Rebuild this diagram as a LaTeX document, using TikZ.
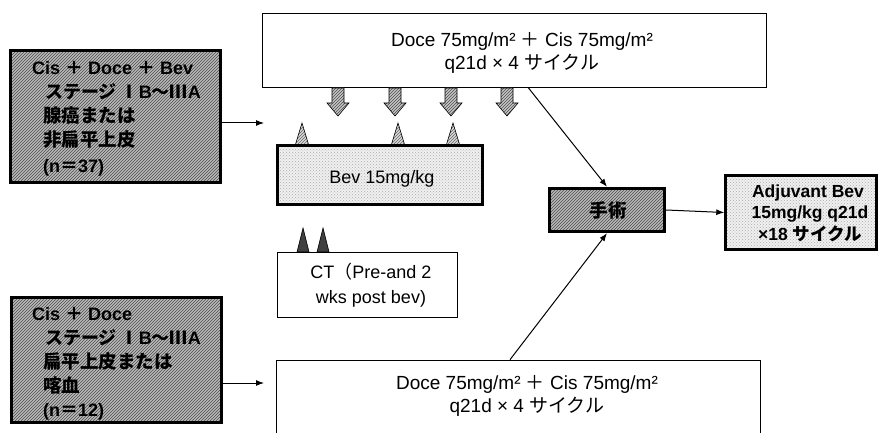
\documentclass[tikz,border=0pt]{standalone}
\usepackage{fontspec}
\setmainfont{Liberation Sans}
\newfontfamily\jp{Noto Sans CJK JP}
\newcommand\jtxt[1]{{\jp #1}}
\usetikzlibrary{arrows.meta,patterns}
\begin{document}
\begin{tikzpicture}[x=1pt,y=-1pt,
  darkbox/.style={draw=black,line width=3.4pt,preaction={fill=gray!55},pattern=north east lines,pattern color=black!70,inner sep=0},
  lightbox/.style={draw=black,line width=2.4pt,preaction={fill=gray!12},pattern=crosshatch dots,pattern color=gray!65,inner sep=0},
  plainbox/.style={draw=black,line width=0.7pt,fill=white,inner sep=0},
  arr/.style={-{Latex[length=8pt,width=6pt]},line width=1pt},
  lbl/.style={font=\bfseries\fontsize{18}{20}\selectfont,anchor=base west,inner sep=0},
  jlbl/.style={font=\bfseries\fontsize{18.5}{20}\selectfont,anchor=base west,inner sep=0},
  txt/.style={font=\fontsize{19}{22}\selectfont,anchor=base,inner sep=0},
  btxt/.style={font=\bfseries\fontsize{17.5}{20}\selectfont,anchor=base,inner sep=0},
  blockarr/.style={draw=black,line width=0.6pt,preaction={fill=gray!45},pattern=north east lines,pattern color=black!70},
  spike/.style={draw=black,line width=0.6pt,preaction={fill=gray!30},pattern=north east lines,pattern color=black!60},
  dspike/.style={draw=black,line width=0.6pt,fill=black!75}
]
\useasboundingbox (0,0) rectangle (881,433);
\clip (0,0) rectangle (881,433);

% left boxes
\node[darkbox,minimum width=210,minimum height=132] (A) at (115.5,116.5) {};
\node[lbl] (a1) at (32,75) {Cis \jtxt{＋} Doce \jtxt{＋} Bev};
\node[lbl] (a2) at (45,99) {\jtxt{ステージ Ⅰ}B\jtxt{～Ⅲ}A};
\node[jlbl] (a3) at (43,123) {\jtxt{腺癌または}};
\node[jlbl] (a4) at (43,147) {\jtxt{非扁平上皮}};
\node[lbl] (a5) at (43,172) {(n\jtxt{＝}37)};

\node[darkbox,minimum width=210,minimum height=125] (B) at (116.5,360) {};
\node[lbl] (b1) at (32,320) {Cis \jtxt{＋} Doce};
\node[lbl] (b2) at (45,344) {\jtxt{ステージ Ⅰ}B\jtxt{～Ⅲ}A};
\node[jlbl] (b3) at (43,368) {\jtxt{扁平上皮または}};
\node[jlbl] (b4) at (43,392) {\jtxt{喀血}};
\node[lbl] (b5) at (43,416) {(n\jtxt{＝}12)};

% top and bottom regimen boxes
\node[plainbox,minimum width=504,minimum height=74] (top) at (514,50) {};
\node[txt] (top1) at (522,47) {Doce 75mg/m² \jtxt{＋} Cis 75mg/m²};
\node[txt] (top2) at (522,70) {q21d × 4 \jtxt{サイクル}};

\node[plainbox,minimum width=484,minimum height=90] (bot) at (518,405) {};
\node[txt] (bot1) at (527,389) {Doce 75mg/m² \jtxt{＋} Cis 75mg/m²};
\node[txt] (bot2) at (527,412) {q21d × 4 \jtxt{サイクル}};

% block arrows
\foreach \x in {338,395,451,507}
  \filldraw[blockarr] (\x-6,88) -- (\x+6,88) -- (\x+6,103) -- (\x+11,103) -- (\x,116) -- (\x-11,103) -- (\x-6,103) -- cycle;

% spikes above Bev box
\foreach \x in {302,398,453}
  \filldraw[spike] (\x-7,146) -- (\x,123) -- (\x+7,146) -- cycle;

% Bev box
\node[lightbox,minimum width=205,minimum height=59] (bev) at (380,175) {};
\node[txt,font=\fontsize{18}{20}\selectfont] (bevtxt) at (382,183) {Bev 15mg/kg};

% CT box
\foreach \x in {303,323}
  \filldraw[dspike] (\x-6,252) -- (\x,228) -- (\x+6,252) -- cycle;
\node[plainbox,minimum width=180,minimum height=65] (ct) at (367,284.5) {};
\node[txt,font=\fontsize{18}{20}\selectfont] (ct1) at (371,278) {CT\jtxt{（}Pre-and 2};
\node[txt,font=\fontsize{18}{20}\selectfont] (ct2) at (371,303) {wks post bev)};

% surgery
\node[darkbox,minimum width=115,minimum height=43] (surg) at (607,210) {};
\node[jlbl,anchor=base] (surgtxt) at (608,217) {\jtxt{手術}};

% adjuvant
\node[lightbox,minimum width=151,minimum height=74] (adj) at (801,212.5) {};
\node[btxt] (adj1) at (808,197) {Adjuvant Bev};
\node[btxt] (adj2) at (810,218) {15mg/kg q21d};
\node[btxt] (adj3) at (810,240) {×18 \jtxt{サイクル}};

% connectors
\coordinate (ae) at (264,123);
\coordinate (be) at (264,383);
\draw[arr] (A.east |- ae) -- (ae);
\draw[arr] (B.east |- be) -- (be);
\draw[arr] ([xshift=14]top.south) -- (surg.north);
\draw[arr] ([xshift=-8]bot.north) -- (surg.south);
\draw[arr] (surg.east) -- (adj.west);
\end{tikzpicture}
\end{document}
